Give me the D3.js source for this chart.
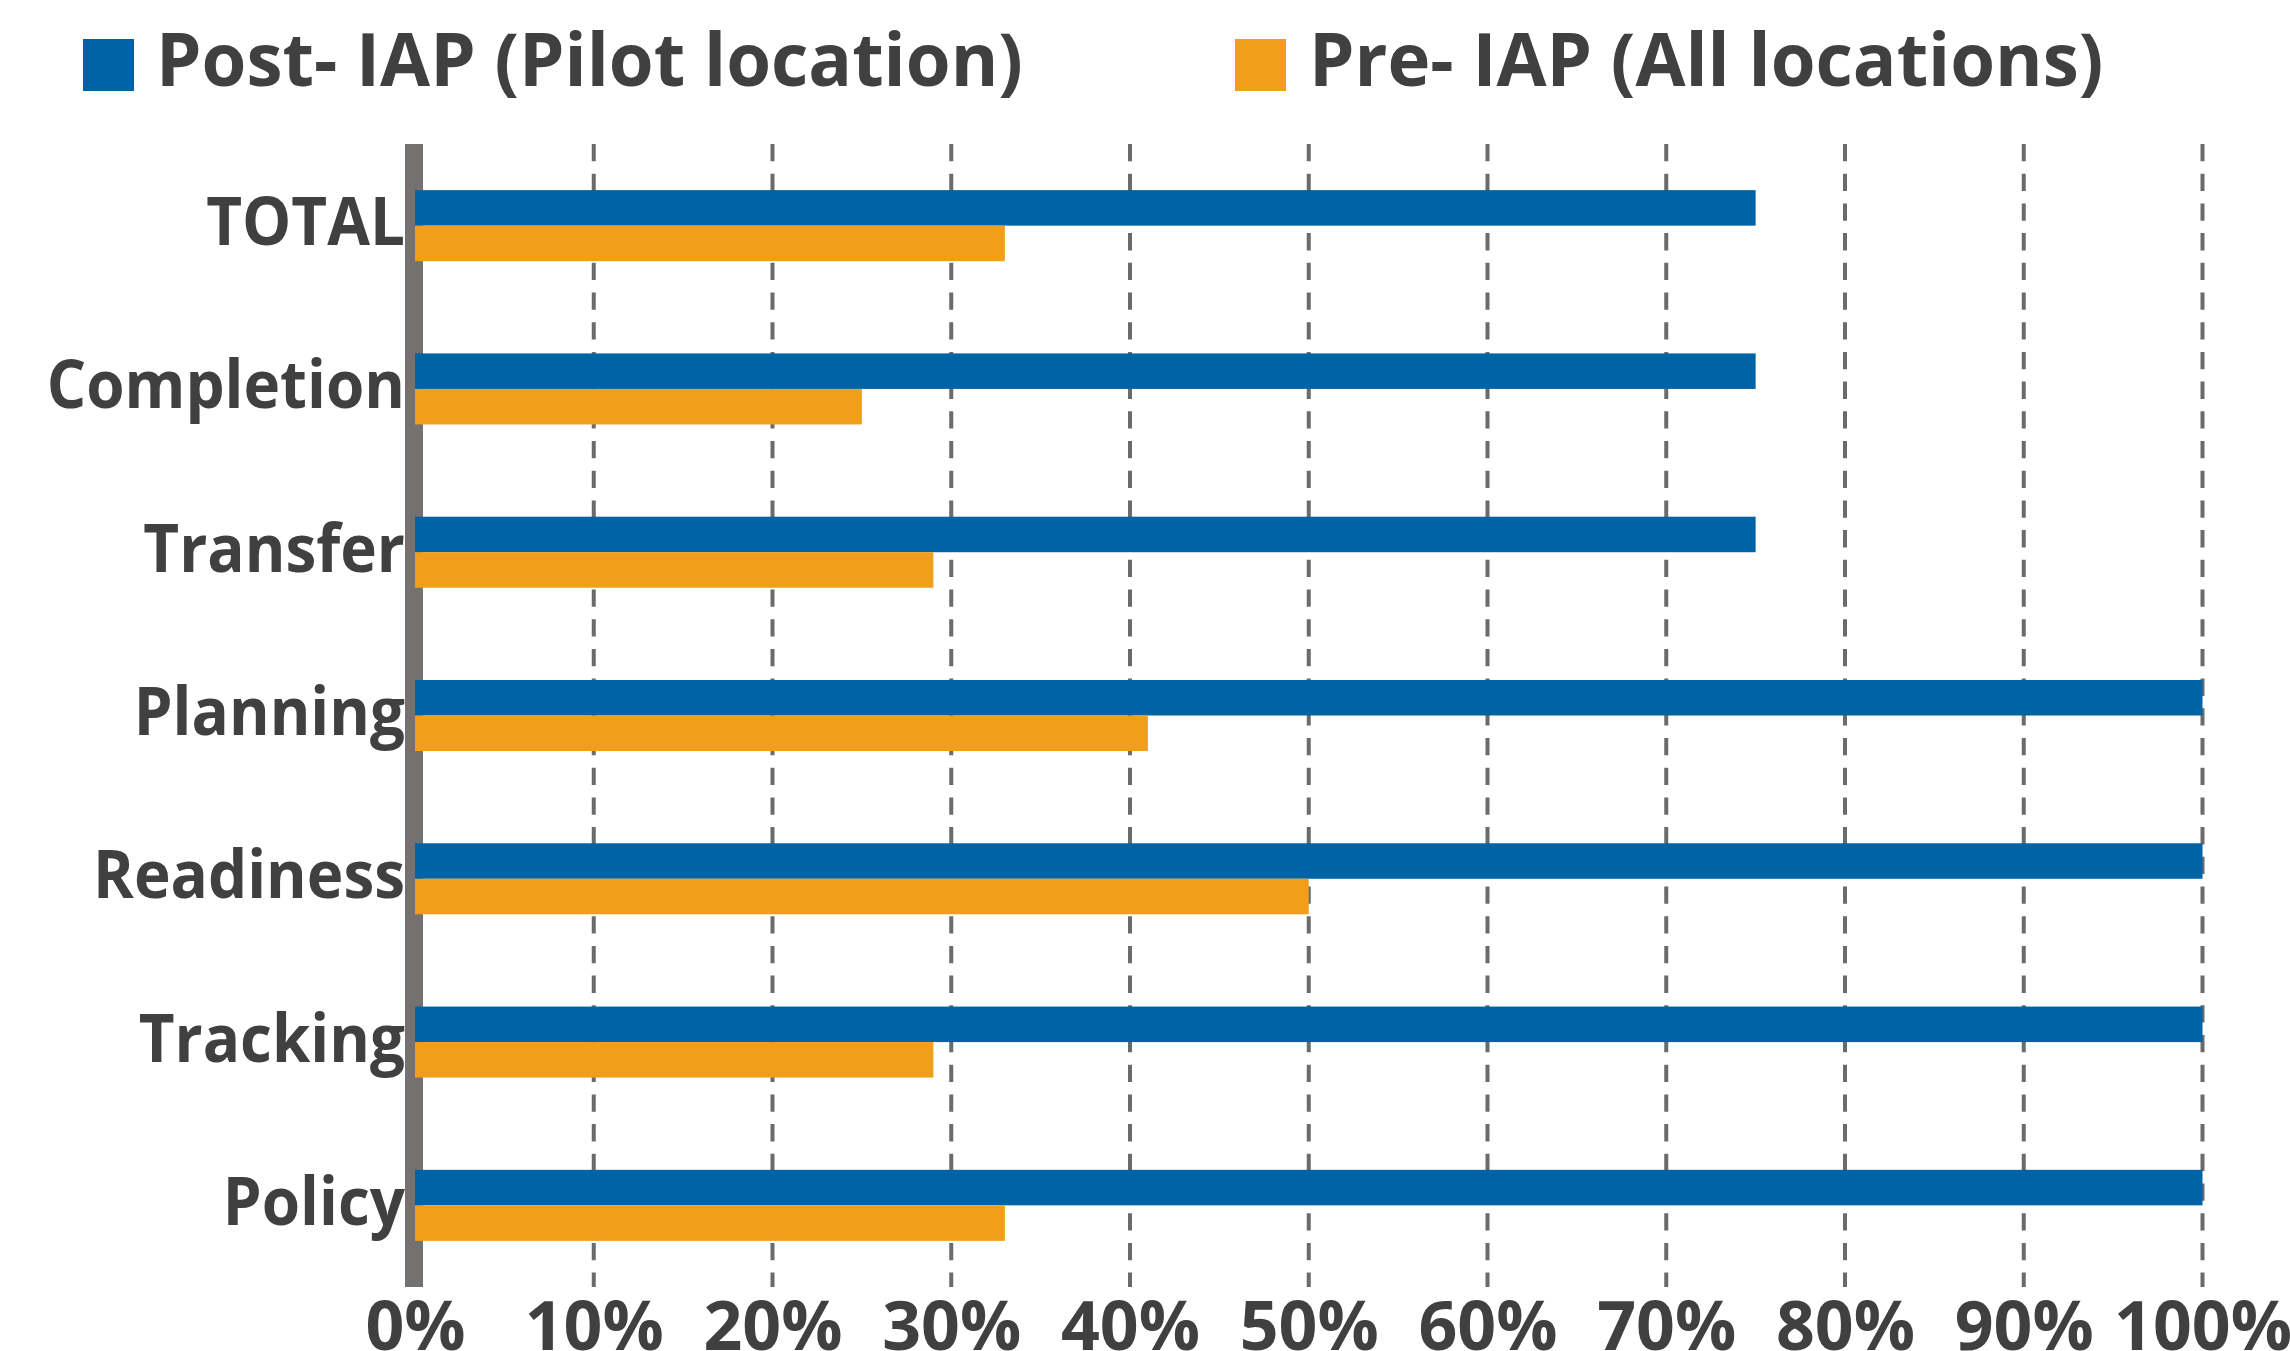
<!DOCTYPE html>
<html><head><meta charset="utf-8">
<script src="https://cdn.jsdelivr.net/npm/d3@7"></script>
<style>body{margin:0;background:#fff}svg{display:block}</style>
</head><body>
<script>
const categories = ["TOTAL", "Completion", "Transfer", "Planning", "Readiness", "Tracking", "Policy"];
const seriesNames = ["Post- IAP (Pilot location)", "Pre- IAP (All locations)"];
const postValues = [0.75, 0.75, 0.75, 1.00, 1.00, 1.00, 1.00];
const preValues  = [0.33, 0.25, 0.29, 0.41, 0.50, 0.29, 0.33];
const xTicks = [0, 0.1, 0.2, 0.3, 0.4, 0.5, 0.6, 0.7, 0.8, 0.9, 1.0];
const seriesColors = ["#0063A6", "#F09E1C"];

const W = 2290, H = 1351;
const FONT = "'Open Sans', sans-serif";
const TEXT = "#404040";

const svg = d3.select("body").append("svg").attr("width", W).attr("height", H);

const x = d3.scaleLinear().domain([0, 1]).range([415, 2202.5]);
const pad = 0.565;
const y = d3.scaleBand().domain(categories).range([144, 1287]).paddingInner(pad).paddingOuter(pad / 2);
const ySub = d3.scaleBand().domain(seriesNames).range([0, y.bandwidth()]);

// gridlines
svg.append("g").selectAll("line").data(xTicks.filter(d => d > 0)).join("line")
  .attr("x1", d => x(d)).attr("x2", d => x(d))
  .attr("y1", 144).attr("y2", 1287)
  .attr("stroke", "#6b6b6b").attr("stroke-width", 4)
  .attr("stroke-dasharray", "17.3,12.4");

// vertical axis bar
svg.append("line").attr("x1", 414).attr("x2", 414).attr("y1", 144).attr("y2", 1287)
  .attr("stroke", "#767171").attr("stroke-width", 18);

// bars
const rows = categories.map((c, i) => ({cat: c, vals: [postValues[i], preValues[i]]}));
const g = svg.append("g").selectAll("g").data(rows).join("g")
  .attr("transform", d => `translate(0,${y(d.cat)})`);
g.selectAll("rect").data(d => d.vals.map((v, j) => ({v, s: seriesNames[j], j}))).join("rect")
  .attr("x", x(0)).attr("y", d => ySub(d.s))
  .attr("width", d => x(d.v) - x(0)).attr("height", ySub.bandwidth())
  .attr("fill", d => seriesColors[d.j]);

// category labels
svg.append("g").selectAll("text").data(categories).join("text")
  .attr("transform", d => `translate(405,${y(d) + y.bandwidth() / 2 + 19.5}) scale(0.925,1)`)
  .attr("text-anchor", "end")
  .attr("font-family", FONT).attr("font-weight", 700).attr("font-size", 67)
  .attr("fill", TEXT).text(d => d);

// x axis
const xAxis = d3.axisBottom(x).tickValues(xTicks).tickFormat(d3.format(".0%")).tickSize(0);
const ax = svg.append("g").attr("transform", "translate(0,1287)").call(xAxis);
ax.select(".domain").remove();
ax.selectAll("text")
  .attr("y", 63).attr("dy", 0)
  .attr("font-family", FONT).attr("font-weight", 700).attr("font-size", 68)
  .attr("fill", TEXT);

// legend
const legendPos = [{sx: 83, tx: 156}, {sx: 1235, tx: 1309}];
const lg = svg.append("g").selectAll("g").data(seriesNames).join("g");
lg.append("rect").attr("x", (d, i) => legendPos[i].sx).attr("y", 39)
  .attr("width", 51).attr("height", 52).attr("fill", (d, i) => seriesColors[i]);
lg.append("text")
  .attr("transform", (d, i) => `translate(${legendPos[i].tx},86) scale(0.98,1)`)
  .attr("font-family", FONT).attr("font-weight", 700).attr("font-size", 74)
  .attr("fill", TEXT).text(d => d);
</script>
</body></html>
